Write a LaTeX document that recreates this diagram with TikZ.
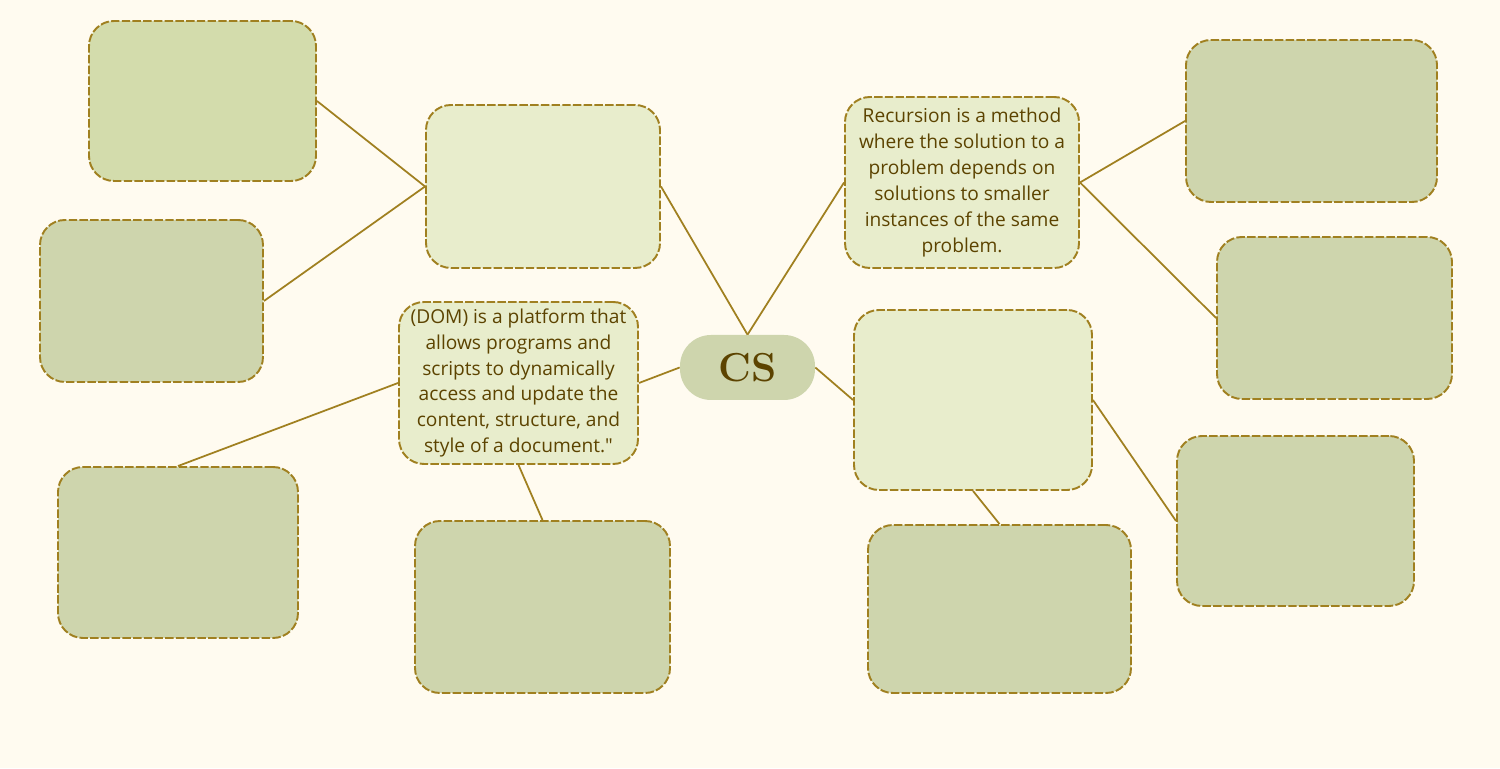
\documentclass[tikz,border=0pt]{standalone}
\usepackage{fontspec}
\usepackage{tikz}
\usetikzlibrary{positioning}
\usepackage{xcolor}
\newfontfamily\mapfont{Open Sans}
\definecolor{paper}{RGB}{255,251,240}
\definecolor{edgegold}{RGB}{160,128,32}
\definecolor{inkbrown}{RGB}{92,67,0}
\definecolor{branchfill}{RGB}{232,237,204}
\definecolor{leaffill}{RGB}{206,213,173}
\definecolor{leaflight}{RGB}{211,220,172}
\tikzstyle{hub} = [rectangle, rounded corners=0.62cm, minimum width=2.7cm, minimum height=1.3cm, fill=leaffill, text=inkbrown, font=\fontsize{23}{23}\selectfont\bfseries]
\tikzstyle{branch} = [rectangle, rounded corners=0.5cm, draw=edgegold, line width=1.1pt, dash pattern=on 4.8pt off 1.3pt, fill=branchfill, text=inkbrown, align=center, inner sep=2pt, font=\mapfont\fontsize{10.9}{14.7}\selectfont]
\tikzstyle{leaf} = [rectangle, rounded corners=0.5cm, draw=edgegold, line width=1.1pt, dash pattern=on 4.8pt off 1.3pt, fill=leaffill]
\tikzstyle{link} = [draw=edgegold, line width=1pt]

\begin{document}
\begin{tikzpicture}

% Canvas
\useasboundingbox (0,0) rectangle (30,15.36);
\fill[paper] (0,0) rectangle (30,15.36);

% Central topic
\node[hub] (cs) at (14.95,8.01) {CS};

% Branches
\node[branch, minimum width=4.68cm, minimum height=3.26cm] (upleft) at (10.86,11.63) {};
\node[branch, minimum width=4.78cm, minimum height=3.24cm] (dom) at (10.37,7.70) {(DOM) is a platform that\\allows programs and\\scripts to dynamically\\access and update the\\content, structure, and\\style of a document."};
\node[branch, minimum width=4.68cm, minimum height=3.42cm] (recursion) at (19.24,11.71) {Recursion is a method\\where the solution to a\\problem depends on\\solutions to smaller\\instances of the same\\problem.};
\node[branch, minimum width=4.76cm, minimum height=3.6cm] (downright) at (19.46,7.36) {};

% Leaves
\node[leaf, fill=leaflight, minimum width=4.54cm, minimum height=3.2cm] (leafA) at (4.05,13.34) {};
\node[leaf, minimum width=4.46cm, minimum height=3.24cm] (leafB) at (3.03,9.34) {};
\node[leaf, minimum width=4.8cm, minimum height=3.42cm] (leafC) at (3.56,4.31) {};
\node[leaf, minimum width=5.1cm, minimum height=3.44cm] (leafD) at (10.85,3.22) {};
\node[leaf, minimum width=5.02cm, minimum height=3.24cm] (leafE) at (26.23,12.94) {};
\node[leaf, minimum width=4.7cm, minimum height=3.24cm] (leafF) at (26.69,9.00) {};
\node[leaf, minimum width=4.74cm, minimum height=3.4cm] (leafG) at (25.91,4.94) {};
\node[leaf, minimum width=5.26cm, minimum height=3.36cm] (leafH) at (19.99,3.18) {};

% Centre to branches
\draw[link] (cs.north) -- (upleft.east);
\draw[link] (cs.north) -- (recursion.west);
\draw[link] (cs.west) -- (dom.east);
\draw[link] (cs.east) -- (downright.west);

% Branches to leaves
\draw[link] (upleft.west) -- (leafA.east);
\draw[link] (upleft.west) -- (leafB.east);
\draw[link] (dom.west) -- (leafC.north);
\draw[link] (dom.south) -- (leafD.north);
\draw[link] (recursion.east) -- (leafE.west);
\draw[link] (recursion.east) -- (leafF.west);
\draw[link] (downright.east) -- (leafG.west);
\draw[link] (downright.south) -- (leafH.north);

\end{tikzpicture}
\end{document}
